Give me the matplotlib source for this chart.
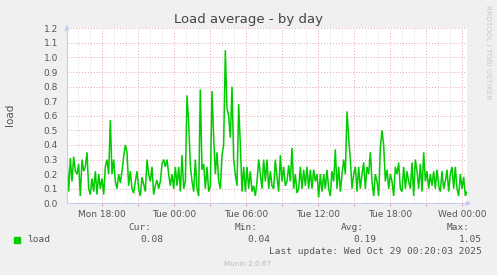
#!/usr/bin/env python3
"""
Munin style "Load average - by day" graph, redrawn with matplotlib.
"""

import numpy as np
import pandas as pd
import matplotlib
matplotlib.use('Agg')
import matplotlib.pyplot as plt
import matplotlib.dates as mdates

# --- data ---
start_time = "2025-10-27 15:05"
end_time = "2025-10-29 00:25"

load = [
    # Mon afternoon -> Mon evening
    0.30, 0.08, 0.31, 0.15, 0.32, 0.22, 0.20, 0.27, 0.05, 0.30,
    0.22, 0.25, 0.35, 0.10, 0.06, 0.17, 0.08, 0.22, 0.06, 0.20,
    0.10, 0.17, 0.06, 0.25, 0.30, 0.20, 0.57, 0.20, 0.30, 0.15,
    0.10, 0.20, 0.14, 0.22, 0.32, 0.40, 0.35, 0.12, 0.22, 0.10,
    0.07, 0.15, 0.22, 0.10, 0.05, 0.18, 0.13, 0.08, 0.30, 0.20,
    0.15, 0.25, 0.06, 0.12, 0.16, 0.10, 0.15, 0.27, 0.30, 0.25,
    0.30,
    # Mon night -> Tue morning (busy period)
    0.20, 0.12, 0.20, 0.10, 0.25, 0.12, 0.25, 0.08, 0.33, 0.10,
    0.15, 0.74, 0.55, 0.26, 0.15, 0.08, 0.30, 0.10, 0.05, 0.78,
    0.23, 0.27, 0.10, 0.25, 0.08, 0.12, 0.77, 0.45, 0.20, 0.35,
    0.15, 0.10, 0.33, 0.40, 1.05, 0.65, 0.60, 0.45, 0.80, 0.30,
    0.20, 0.12, 0.68, 0.40, 0.08, 0.25, 0.08, 0.25, 0.10, 0.22,
    0.08, 0.12, 0.05, 0.15, 0.30, 0.20, 0.10, 0.30, 0.15, 0.30,
    0.10, 0.22, 0.12,
    # Tue daytime
    0.10, 0.30, 0.18, 0.08, 0.33, 0.15, 0.25, 0.12, 0.15, 0.26,
    0.15, 0.38, 0.10, 0.20, 0.07, 0.10, 0.25, 0.10, 0.23, 0.12,
    0.25, 0.10, 0.23, 0.10, 0.23, 0.15, 0.20, 0.04, 0.20, 0.08,
    0.20, 0.10, 0.23, 0.10, 0.05, 0.22, 0.15, 0.37, 0.10, 0.25,
    0.08, 0.20, 0.30, 0.20, 0.63, 0.45, 0.30, 0.10, 0.20, 0.25,
    0.08, 0.25, 0.10, 0.20, 0.28, 0.10, 0.25, 0.20, 0.35, 0.15,
    0.05,
    # Tue evening -> Wed 00:20
    0.20, 0.15, 0.05, 0.38, 0.50, 0.40, 0.15, 0.23, 0.10, 0.20,
    0.15, 0.05, 0.25, 0.20, 0.28, 0.10, 0.08, 0.25, 0.10, 0.22,
    0.15, 0.10, 0.28, 0.05, 0.30, 0.22, 0.10, 0.27, 0.08, 0.35,
    0.15, 0.22, 0.10, 0.20, 0.12, 0.22, 0.10, 0.23, 0.12, 0.08,
    0.22, 0.10, 0.15, 0.23, 0.08, 0.20, 0.25, 0.10, 0.25, 0.10,
    0.05, 0.20, 0.10, 0.18, 0.05, 0.08,
]

legend_cols = ["Cur:", "Min:", "Avg:", "Max:"]
legend_vals = ["0.08", "0.04", "0.19", "1.05"]
last_update = "Last update: Wed Oct 29 00:20:03 2025"

# --- styling ---
W, H = 497, 275
BG = '#F0F0F0'
TXT = '#555555'
GREEN = '#00CC00'
MGRID = '#E4A6A6'
GRID = '#D8D8D8'
AXIS = '#C8CCF4'

times = pd.date_range(start_time, end_time, periods=len(load))

fig = plt.figure(figsize=(W / 100, H / 100), dpi=100)
fig.patch.set_facecolor(BG)

def px(x, y):
    # pixel position (from top-left) -> figure fraction
    return x / W, 1 - y / H

ax = fig.add_axes([67 / W, 1 - 203.3 / H, 400 / W, 175 / H])
ax.set_facecolor('white')

ax.plot(times, load, color=GREEN, lw=1.1, solid_joinstyle='miter')

ax.set_xlim(pd.Timestamp(start_time), pd.Timestamp(end_time))
ax.set_ylim(0, 1.2)
ax.set_yticks(np.arange(0, 1.21, 0.1))
ax.yaxis.set_major_formatter(matplotlib.ticker.FormatStrFormatter('%.1f'))

ax.xaxis.set_major_locator(mdates.HourLocator(byhour=range(0, 24, 3)))
ax.xaxis.set_minor_locator(mdates.HourLocator())

def fmt_time(x, pos=None):
    d = mdates.num2date(x)
    return d.strftime('%a %H:%M') if d.hour % 6 == 0 else ''

ax.xaxis.set_major_formatter(matplotlib.ticker.FuncFormatter(fmt_time))

# grid: hourly grey, 3-hourly / 0.1 red, both dotted
dots = (0, (1, 2))
ax.grid(which='minor', axis='x', color=GRID, lw=0.7, linestyle=dots)
ax.grid(which='major', axis='x', color=MGRID, lw=0.7, linestyle=dots)
ax.grid(which='major', axis='y', color=MGRID, lw=0.7, linestyle=dots)
ax.set_axisbelow(True)

for s in ['top', 'right']:
    ax.spines[s].set_visible(False)
for s in ['left', 'bottom']:
    ax.spines[s].set_color(AXIS)
    ax.spines[s].set_linewidth(0.8)

ax.tick_params(axis='y', length=0, pad=6.5, labelsize=6.5, labelcolor=TXT)
ax.tick_params(axis='x', which='major', length=2, width=0.8, color=MGRID,
               pad=3, labelsize=6.5, labelcolor=TXT)
ax.tick_params(axis='x', which='minor', length=0)

# axis arrows
arrow = dict(arrowstyle='-|>', color=AXIS, lw=0.8, mutation_scale=7)
ax.annotate('', xy=(0, 1.035), xytext=(0, 0.99), xycoords='axes fraction',
            arrowprops=arrow, annotation_clip=False)
ax.annotate('', xy=(1.018, 0), xytext=(0.99, 0), xycoords='axes fraction',
            arrowprops=arrow, annotation_clip=False)

# titles
fig.text(*px(248, 19), "Load average - by day", ha='center', va='center',
         fontsize=9.5, color='#444444')
fig.text(*px(10, 115), "load", ha='center', va='center', rotation=90,
         fontsize=7.5, color=TXT)
fig.text(*px(488, 5), "RRDTOOL / TOBI OETIKER", ha='center', va='top',
         rotation=270, fontsize=5.3, color='#C8C8C8')

# legend block
mono = 'DejaVu Sans Mono'
fig.patches.append(plt.Rectangle(px(14, 243), 6 / W, 6 / H, color=GREEN,
                                 transform=fig.transFigure))
fig.text(*px(27, 240), "load", ha='left', va='center', family=mono,
         fontsize=6.8, color=TXT)
for col, val, xr in zip(legend_cols, legend_vals, [163, 270, 376, 482]):
    fig.text(*px(xr - 12, 228), col, ha='right', va='center', family=mono,
             fontsize=6.8, color=TXT)
    fig.text(*px(xr, 240), val, ha='right', va='center', family=mono,
             fontsize=6.8, color=TXT)
fig.text(*px(482, 251.5), last_update, ha='right', va='center', family=mono,
         fontsize=6.8, color=TXT)
fig.text(*px(248, 264), "Munin 2.0.67", ha='center', va='center',
         fontsize=5.2, color='#BBBBBB')

fig.savefig('out.png', dpi=100, facecolor=BG)
